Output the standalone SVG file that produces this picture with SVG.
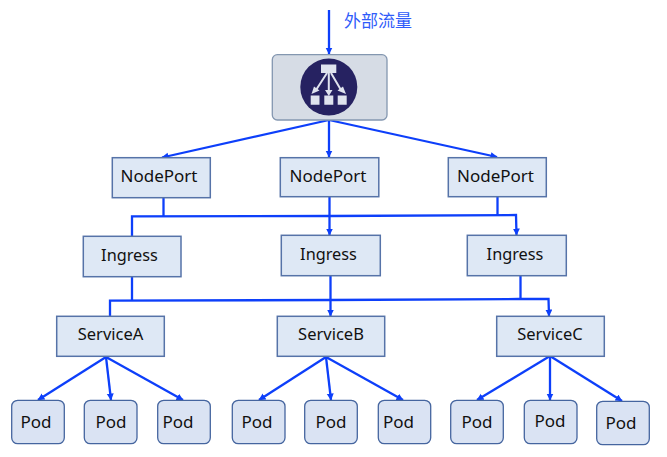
<svg xmlns="http://www.w3.org/2000/svg" width="667" height="457" viewBox="0 0 667 457">
<style>
text{font-family:"Noto Sans","Noto Sans CJK SC",sans-serif;font-size:17px;fill:#111;text-anchor:middle}
.i{font-size:16.300px}
.s{font-size:16.500px}
.b{fill:#dee8f5;stroke:#5673a8;stroke-width:1.500}
.p{fill:#dae3f3;stroke:#45659f;stroke-width:1.300}
.l{fill:none;stroke:#0d3ffa;stroke-width:2.300}
.a{marker-end:url(#m)}
</style>
<defs><marker id="m" markerUnits="userSpaceOnUse" markerWidth="8" markerHeight="8" refX="6.500" refY="3.500" orient="auto"><path d="M0 0L7 3.500L0 7Z" fill="#0d3ffa"/></marker></defs>
<rect width="667" height="457" fill="#fff"/>
<g id="connectors">
<path class="l a" d="M329 10V54"/>
<path class="l a" d="M329 120L162 157.500"/>
<path class="l a" d="M329 120V157"/>
<path class="l a" d="M329 120L497 157"/>
<path class="l" d="M163.500 197V216.300"/>
<path class="l a" d="M132 236V216.300L330 216L516 215L516.500 235"/>
<path class="l a" d="M329.500 196.500V235"/>
<path class="l" d="M497.500 196V215"/>
<path class="l" d="M132 276.500V301"/>
<path class="l a" d="M110 316V300.700L330 300L518 299L548.500 298.800L549 316"/>
<path class="l a" d="M330.500 275.500V316"/>
<path class="l" d="M520.500 273V299"/>
<path class="l a" d="M106 357L38 400"/>
<path class="l a" d="M106 357L111 400"/>
<path class="l a" d="M106 357L183 400"/>
<path class="l a" d="M326 357L259 400"/>
<path class="l a" d="M326 357L331 400"/>
<path class="l a" d="M326 357L403 400"/>
<path class="l a" d="M550 356L477 400"/>
<path class="l a" d="M550 356V400"/>
<path class="l a" d="M550 356L622 401"/>
</g>
<g id="lb"><rect x="272.300" y="54.700" width="114.700" height="65.300" rx="5" fill="#d6dce5" stroke="#8497b0" stroke-width="1.300"/>
<circle cx="328.800" cy="87" r="28.500" fill="#262261"/>
<path d="M321 64.500h15.300v8.500h-15.300zM310.700 95.500h8.800v9.300h-8.800zM324.300 95.500h9v9.300h-9zM337.700 95.500h9v9.300h-9z" fill="#dfe3ee"/>
<path d="M327 73L316 90M328.800 73V90M331 73L341 90" stroke="#dfe3ee" stroke-width="2" fill="none"/>
<path d="M311.500 94L314 86.500L319.500 90.500ZM325 90H332.500L328.800 96ZM337.500 90.500L343 86.500L346 94Z" fill="#dfe3ee"/></g>
<text x="378" y="27" style="fill:#2f5cfa">外部流量</text>
<g id="np1"><rect class="b" x="112.300" y="157.700" width="98" height="40"/><text x="159" y="182">NodePort</text></g>
<g id="np2"><rect class="b" x="280.300" y="157.700" width="98.500" height="39"/><text x="328" y="182">NodePort</text></g>
<g id="np3"><rect class="b" x="448.300" y="157.700" width="98" height="39"/><text x="495.500" y="182">NodePort</text></g>
<g id="in1"><rect class="b" x="83.300" y="236.300" width="97.700" height="40.400"/><text class="i" x="129.500" y="261">Ingress</text></g>
<g id="in2"><rect class="b" x="281.300" y="235.300" width="99" height="40.400"/><text class="i" x="328.500" y="260">Ingress</text></g>
<g id="in3"><rect class="b" x="467.300" y="235.300" width="99" height="40.400"/><text class="i" x="515" y="260">Ingress</text></g>
<g id="sa"><rect class="b" x="56.700" y="316.300" width="107.600" height="40"/><text class="s" x="110.500" y="340">ServiceA</text></g>
<g id="sb"><rect class="b" x="277.300" y="316.300" width="107.400" height="40"/><text class="s" x="331" y="340">ServiceB</text></g>
<g id="sc"><rect class="b" x="496.700" y="316.300" width="107.600" height="40"/><text class="s" x="550" y="340">ServiceC</text></g>
<g id="p1"><rect class="p" x="11.700" y="400.300" width="52.600" height="43.400" rx="6"/><text x="36" y="428">Pod</text></g>
<g id="p2"><rect class="p" x="84.300" y="400.300" width="52.700" height="43.400" rx="6"/><text x="111" y="428">Pod</text></g>
<g id="p3"><rect class="p" x="157.700" y="400.300" width="52.600" height="43.400" rx="6"/><text x="178" y="428">Pod</text></g>
<g id="p4"><rect class="p" x="232.300" y="400.300" width="52.700" height="43.400" rx="6"/><text x="257" y="428">Pod</text></g>
<g id="p5"><rect class="p" x="304.700" y="400.300" width="52.600" height="43.400" rx="6"/><text x="331" y="428">Pod</text></g>
<g id="p6"><rect class="p" x="378.300" y="400.300" width="52.400" height="43.400" rx="6"/><text x="398.500" y="428">Pod</text></g>
<g id="p7"><rect class="p" x="450.700" y="400.300" width="52.600" height="43.400" rx="6"/><text x="477" y="428">Pod</text></g>
<g id="p8"><rect class="p" x="524.300" y="400.300" width="52.700" height="43.400" rx="6"/><text x="550" y="427">Pod</text></g>
<g id="p9"><rect class="p" x="596.700" y="401.300" width="52.600" height="43.400" rx="6"/><text x="621" y="429">Pod</text></g>
</svg>
